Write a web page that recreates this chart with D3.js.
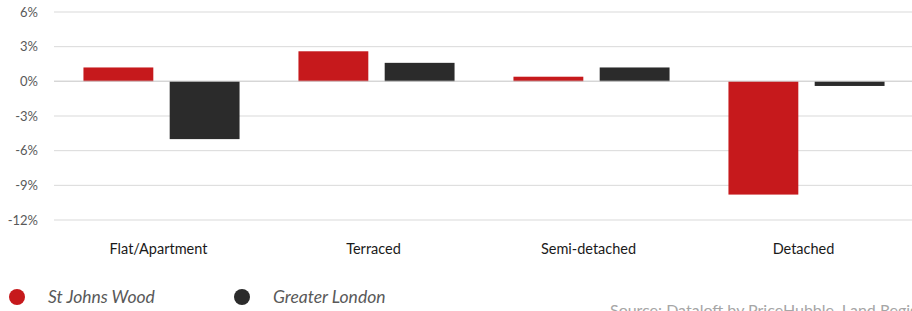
<!DOCTYPE html>
<html>
<head>
<meta charset="utf-8">
<script src="https://cdn.jsdelivr.net/npm/d3@7"></script>
<style>
  body { margin: 0; background: #fff; overflow: hidden; }
  svg { display: block; font-family: Lato, "Open Sans", sans-serif; }
</style>
</head>
<body>
<svg id="chart" width="912" height="311"></svg>
<script>
const categories = ['Flat/Apartment', 'Terraced', 'Semi-detached', 'Detached'];
const seriesNames = ['St Johns Wood', 'Greater London'];
const stJohnsWood = [1.2, 2.6, 0.4, -9.8];
const greaterLondon = [-5.0, 1.6, 1.2, -0.4];
const yTicks = [6, 3, 0, -3, -6, -9, -12];
const sourceText = 'Source: Dataloft by PriceHubble, Land Registry';

const colors = ['#c6191c', '#2b2b2b'];

const svg = d3.select('#chart');
const margin = { top: 12, left: 54, right: -2, bottom: 91 };
const width = 912 - margin.left - margin.right;
const height = 311 - margin.top - margin.bottom;

const rows = categories.map((c, i) => ({ category: c, values: [stJohnsWood[i], greaterLondon[i]] }));

const x = d3.scaleBand().domain(categories).range([margin.left, margin.left + width]).paddingInner(0.274).paddingOuter(0.137);
const x1 = d3.scaleBand().domain(d3.range(seriesNames.length)).range([0, x.bandwidth()]).paddingInner(0.19);
const y = d3.scaleLinear().domain([-12, 6]).range([margin.top + height, margin.top]);

// gridlines
svg.append('g')
    .selectAll('line')
    .data(yTicks)
    .enter()
    .append('line')
    .attr('x1', margin.left)
    .attr('x2', 912)
    .attr('y1', d => y(d))
    .attr('y2', d => y(d))
    .style('stroke', '#d9d9d9')
    .style('stroke-width', '1px');

// y axis labels
const yAxis = d3.axisLeft(y).tickValues(yTicks).tickSize(0).tickPadding(0).tickFormat(d => d + '%');
svg.append('g')
    .attr('transform', 'translate(38,0)')
    .call(yAxis)
    .call(g => g.select('.domain').remove())
    .selectAll('text')
    .style('font-family', 'Lato, sans-serif')
    .style('font-size', '13px')
    .style('fill', '#595959');

// bars
svg.append('g')
    .selectAll('g')
    .data(rows)
    .enter()
    .append('g')
    .attr('transform', d => 'translate(' + x(d.category) + ',0)')
    .selectAll('rect')
    .data(d => d.values)
    .enter()
    .append('rect')
    .attr('x', (d, i) => x1(i))
    .attr('width', x1.bandwidth())
    .attr('y', d => y(Math.max(0, d)))
    .attr('height', d => Math.abs(y(d) - y(0)))
    .style('fill', (d, i) => colors[i]);

// zero line over the bars
svg.append('line')
    .attr('x1', margin.left)
    .attr('x2', 912)
    .attr('y1', y(0))
    .attr('y2', y(0))
    .style('stroke', '#d0d0d0')
    .style('stroke-opacity', 0.6)
    .style('stroke-width', '1.5px');

// category labels
const xAxis = d3.axisBottom(x).tickSize(0).tickPadding(0);
svg.append('g')
    .attr('transform', 'translate(-3,' + 244 + ')')
    .call(xAxis)
    .call(g => g.select('.domain').remove())
    .selectAll('text')
    .style('font-family', 'Lato, sans-serif')
    .style('font-size', '14.5px')
    .style('fill', '#1a1a1a');

// legend
const legendX = [17, 242];
const legend = svg.append('g')
    .selectAll('g')
    .data(seriesNames)
    .enter()
    .append('g')
    .attr('transform', (d, i) => 'translate(' + legendX[i] + ',297)');

legend.append('circle')
    .attr('r', 8)
    .style('fill', (d, i) => colors[i]);

legend.append('text')
    .attr('x', 31)
    .attr('dy', '0.35em')
    .style('font-size', '17.5px')
    .style('font-style', 'italic')
    .style('fill', '#595959')
    .text(d => d);

// source (cropped by the frame, as in the original)
svg.append('text')
    .attr('x', 610)
    .attr('y', 316)
    .style('font-size', '16px')
    .style('fill', '#a6a6a6')
    .text(sourceText);
</script>
</body>
</html>
